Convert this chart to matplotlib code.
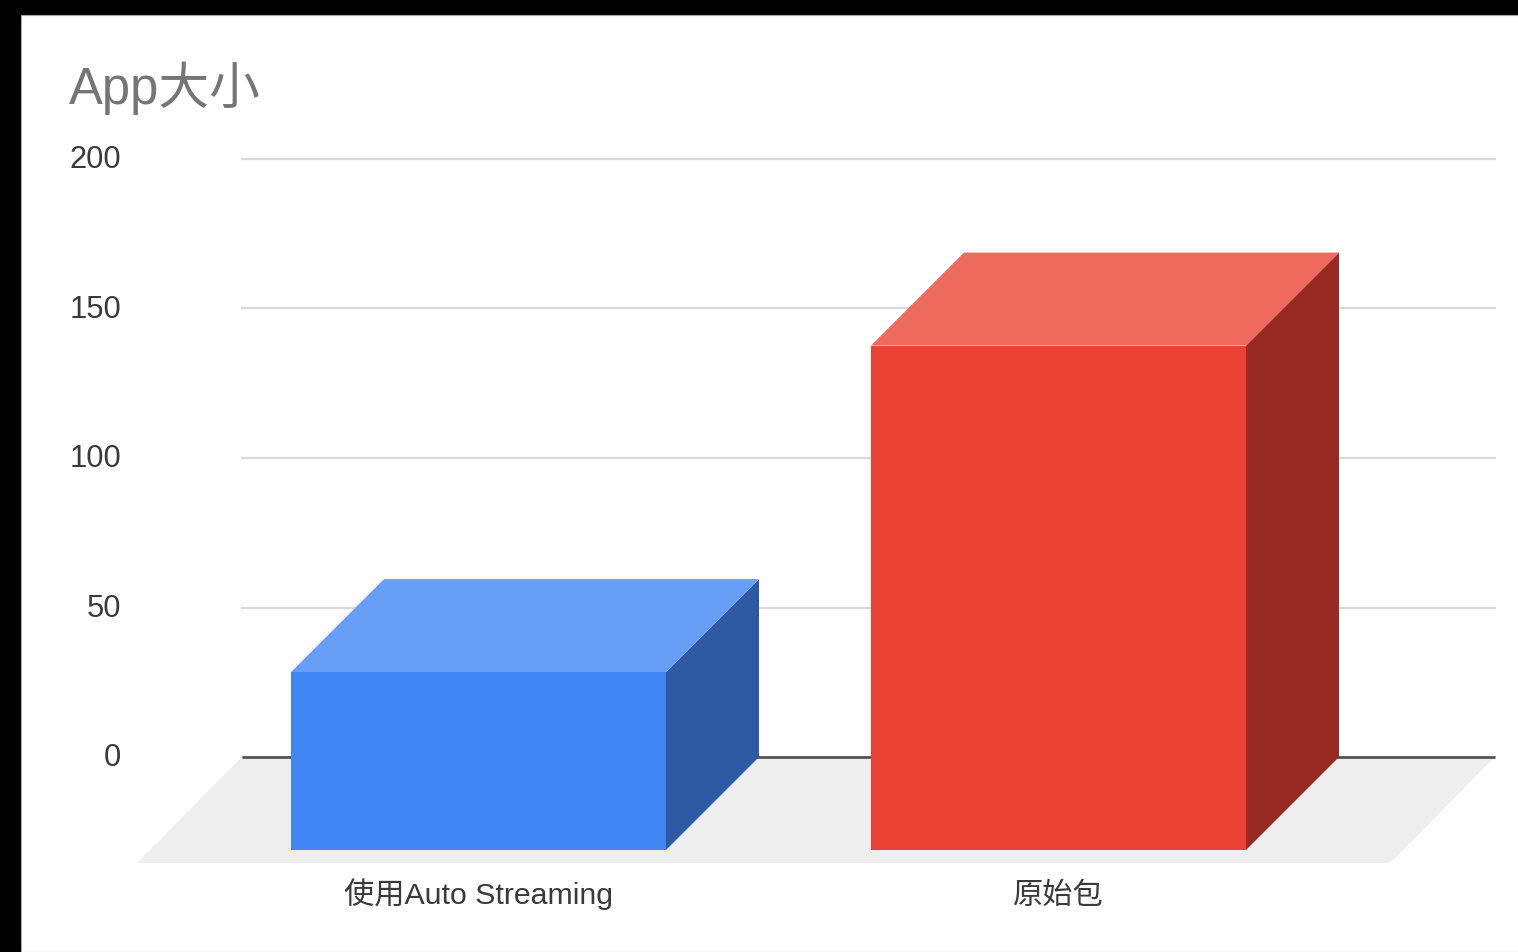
import matplotlib
matplotlib.use('Agg')
import matplotlib.pyplot as plt
from matplotlib.patches import Polygon, Rectangle
from matplotlib.transforms import ScaledTranslation

plt.rcParams['font.family'] = ['Liberation Sans', 'Noto Sans CJK SC', 'DejaVu Sans']

title = 'App大小'
categories = ['使用Auto Streaming', '原始包']
sizes = [59.5, 168.7]
y_ticks = [0, 50, 100, 150, 200]
front_colors = ['#4285f4', '#ea4335']
top_colors = ['#679ef6', '#ee6a5d']
side_colors = ['#2e59a3', '#982a23']

W, H = 1518, 952
px_per_cat = 580
px_per_val = 598 / 200
bar_width = 375 / px_per_cat
# depth of the fake 3d, bars and floor
depth_x = 93 / px_per_cat
depth_y = 93 / px_per_val
floor_x = 105 / px_per_cat
floor_y = 106 / px_per_val

fig = plt.figure(figsize=(W / 100, H / 100), dpi=100, facecolor='black')
# white page, has to stay behind the axes
fig.add_artist(Rectangle((20.5 / W, 0), 1, 1 - 14.5 / H, transform=fig.transFigure,
                         facecolor='white', edgecolor='#a8a8a8', linewidth=0.8, zorder=-1))

ax = fig.add_axes([242 / W, 1 - 757 / H, 1253 / W, 598 / H])
ax.patch.set_alpha(0)
x_left = (242 - 478.5) / px_per_cat
x_right = (1495 - 478.5) / px_per_cat
ax.set_xlim(x_left, x_right)
ax.set_ylim(0, 200)

for s in ax.spines.values():
    s.set_visible(False)

ax.set_yticks(y_ticks)
ax.set_xticks(range(len(categories)))
ax.set_xticklabels(categories, fontsize=21.8, color='#3a3a3a')
ax.tick_params(axis='y', length=0, pad=87, labelsize=22.2, labelcolor='#3a3a3a')
ax.tick_params(axis='x', length=0, pad=106)
ax.grid(axis='y', color='#dadada', linewidth=1.6, zorder=1, clip_on=False)
ax.grid(axis='x', visible=False)
ax.set_axisbelow(True)

# same baseline for latin and cjk labels
for lab in ax.get_xticklabels():
    lab.set_verticalalignment('baseline')
# y labels sit a bit above their gridlines
nudge = ScaledTranslation(0, 2 / 100, fig.dpi_scale_trans)
for lab in ax.get_yticklabels():
    lab.set_transform(lab.get_transform() + nudge)

# floor
ax.add_patch(Polygon([(x_left, 0), (x_right, 0), (x_right - floor_x, -floor_y), (x_left - floor_x, -floor_y)],
                     facecolor='#eeeeee', edgecolor='none', clip_on=False, zorder=2))
ax.axhline(0, color='#4f4f4f', linewidth=1.9, zorder=3, clip_on=False, solid_capstyle='butt')

# front face sits lower and left of the back wall
for i, v in enumerate(sizes):
    x0 = i - bar_width / 2
    x1 = i + bar_width / 2
    y0 = -depth_y
    y1 = v - depth_y
    ax.add_patch(Polygon([(x1, y0), (x1 + depth_x, 0), (x1 + depth_x, v), (x1, y1)],
                         facecolor=side_colors[i], edgecolor='none', clip_on=False, zorder=4))
    ax.add_patch(Polygon([(x0, y1), (x1, y1), (x1 + depth_x, v), (x0 + depth_x, v)],
                         facecolor=top_colors[i], edgecolor='none', clip_on=False, zorder=4))
    ax.bar(i, v, bar_width, bottom=y0, color=front_colors[i], clip_on=False, zorder=5)

ax.set_xlim(x_left, x_right)
ax.set_ylim(0, 200)

fig.text(69 / W, 1 - 104 / H, title, fontsize=36.5, color='#757575', ha='left', va='baseline')

fig.savefig('out.png', dpi=100, facecolor=fig.get_facecolor())
